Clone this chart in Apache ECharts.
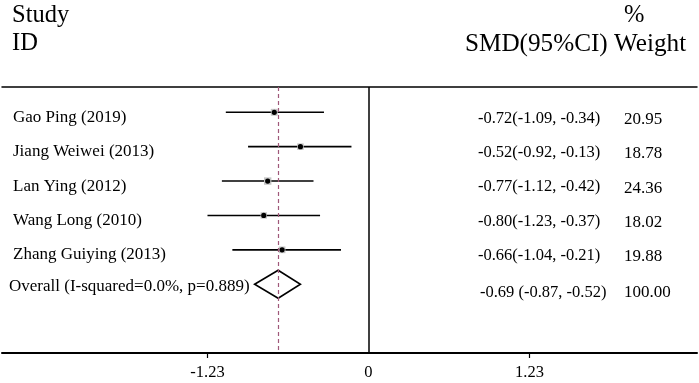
<!DOCTYPE html>
<html>
<head>
<meta charset="utf-8">
<script src="https://cdn.jsdelivr.net/npm/echarts@6/dist/echarts.min.js"></script>
<style>
html,body{margin:0;padding:0;background:#fff;}
#chart{width:699px;height:383px;}
</style>
</head>
<body>
<div id="chart"></div>
<script>
// ---- data ----
const studies = ['Gao Ping (2019)', 'Jiang Weiwei (2013)', 'Lan Ying (2012)', 'Wang Long (2010)', 'Zhang Guiying (2013)'];
const smd = [-0.72, -0.52, -0.77, -0.80, -0.66];
const ciLow = [-1.09, -0.92, -1.12, -1.23, -1.04];
const ciHigh = [-0.34, -0.13, -0.42, -0.37, -0.21];
const weights = [20.95, 18.78, 24.36, 18.02, 19.88];
const overallLabel = 'Overall (I-squared=0.0%, p=0.889)';
const overallSmd = -0.69;
const overallLow = -0.87;
const overallHigh = -0.52;
const overallWeight = 100.00;
const xTickLabels = [-1.23, 0, 1.23];
const headerLeft = ['Study', 'ID'];
const headerRight = ['%', 'SMD(95%CI) Weight'];

const FONT = '"Liberation Serif", "Times New Roman", serif';
const fmt = v => v.toFixed(2);

const studyData = studies.map((s, i) => [i + 1, smd[i], ciLow[i], ciHigh[i], weights[i], i]);
const overallRow = studies.length + 1;

const chart = echarts.init(document.getElementById('chart'), null, {renderer: 'canvas'});

const option = {
  animation: false,
  backgroundColor: '#fff',
  grid: {left: 2, right: 2, top: 87, bottom: 30, containLabel: false},
  xAxis: [{
    type: 'value', min: -2.800, max: 2.510, position: 'bottom',
    splitLine: {show: false},
    axisLine: {show: true, onZero: false, lineStyle: {color: '#000', width: 2}},
    axisTick: {show: true, length: 5, customValues: [xTickLabels[0], xTickLabels[2]], lineStyle: {color: '#000', width: 1.2}},
    axisLabel: {show: true, customValues: xTickLabels, margin: 11, color: '#000', fontSize: 16.5, fontFamily: FONT,
      formatter: v => (v === 0 ? '0' : fmt(v))}
  }, {
    type: 'value', min: -2.800, max: 2.510, position: 'top',
    splitLine: {show: false},
    axisLine: {show: true, onZero: false, lineStyle: {color: '#000', width: 1.5}},
    axisTick: {show: false}, axisLabel: {show: false}
  }],
  yAxis: {type: 'value', inverse: true, min: 0.265, max: 8.0, show: false},
  graphic: [
    {type: 'text', left: 12, top: 3, style: {text: headerLeft[0], font: '24.5px ' + FONT, fill: '#000'}},
    {type: 'text', left: 12, top: 31, style: {text: headerLeft[1], font: '24.5px ' + FONT, fill: '#000'}},
    {type: 'text', left: 624, top: 3, style: {text: headerRight[0], font: '24.5px ' + FONT, fill: '#000'}},
    {type: 'text', left: 465, top: 32, style: {text: headerRight[1], font: '25.2px ' + FONT, fill: '#000'}}
  ],
  series: [
    {
      type: 'custom',
      xAxisIndex: 0,
      data: studyData,
      encode: {x: [1, 2, 3], y: 0},
      z: 3,
      renderItem: function (params, api) {
        const row = api.value(0);
        const pE = api.coord([api.value(1), row]);
        const pL = api.coord([api.value(2), row]);
        const pH = api.coord([api.value(3), row]);
        const cs = params.coordSys;
        const idx = api.value(5);
        const s = Math.sqrt(api.value(4)) * 1.5;
        const ty = pE[1] + 5;
        return {
          type: 'group',
          children: [
            {type: 'line', shape: {x1: pL[0], y1: pL[1], x2: pH[0], y2: pH[1]}, style: {stroke: '#000', lineWidth: 1.6}},
            {type: 'rect', shape: {x: pE[0] - s / 2, y: pE[1] - s / 2, width: s, height: s}, style: {fill: '#c4c4c4'}},
            {type: 'circle', shape: {cx: pE[0], cy: pE[1], r: 2.6}, style: {fill: '#000'}},
            {type: 'text', style: {text: studies[idx], x: cs.x + 11, y: ty, font: '17px ' + FONT, fill: '#000', align: 'left', verticalAlign: 'middle'}},
            {type: 'text', style: {text: fmt(smd[idx]) + '(' + fmt(ciLow[idx]) + ', ' + fmt(ciHigh[idx]) + ')', x: cs.x + 476, y: pE[1] + 6, font: '16.5px ' + FONT, fill: '#000', align: 'left', verticalAlign: 'middle'}},
            {type: 'text', style: {text: fmt(weights[idx]), x: cs.x + 622, y: pE[1] + 7, font: '17px ' + FONT, fill: '#000', align: 'left', verticalAlign: 'middle'}}
          ]
        };
      },
      markLine: {
        silent: true, symbol: 'none', label: {show: false},
        data: [
          {xAxis: 0, lineStyle: {type: 'solid', color: '#000', width: 1.5}},
          {xAxis: overallSmd, lineStyle: {type: [4, 3], color: '#a0587a', width: 1.2}}
        ]
      }
    },
    {
      type: 'custom',
      xAxisIndex: 0,
      data: [[overallRow, overallSmd, overallLow, overallHigh, overallWeight]],
      encode: {x: [1, 2, 3], y: 0},
      z: 4,
      renderItem: function (params, api) {
        const row = api.value(0);
        const pE = api.coord([api.value(1), row]);
        const pL = api.coord([api.value(2), row]);
        const pH = api.coord([api.value(3), row]);
        const cs = params.coordSys;
        const h = 14;
        return {
          type: 'group',
          children: [
            {type: 'polygon', shape: {points: [[pL[0], pL[1]], [pE[0], pE[1] - h], [pH[0], pH[1]], [pE[0], pE[1] + h]]},
              style: {fill: 'none', stroke: '#000', lineWidth: 1.6}},
            {type: 'text', style: {text: overallLabel, x: cs.x + 7, y: pE[1] + 2, font: '17px ' + FONT, fill: '#000', align: 'left', verticalAlign: 'middle'}},
            {type: 'text', style: {text: fmt(overallSmd) + ' (' + fmt(overallLow) + ', ' + fmt(overallHigh) + ')', x: cs.x + 478, y: pE[1] + 8, font: '16.5px ' + FONT, fill: '#000', align: 'left', verticalAlign: 'middle'}},
            {type: 'text', style: {text: fmt(overallWeight), x: cs.x + 622, y: pE[1] + 8, font: '17px ' + FONT, fill: '#000', align: 'left', verticalAlign: 'middle'}}
          ]
        };
      }
    }
  ]
};
chart.setOption(option);
</script>
</body>
</html>
